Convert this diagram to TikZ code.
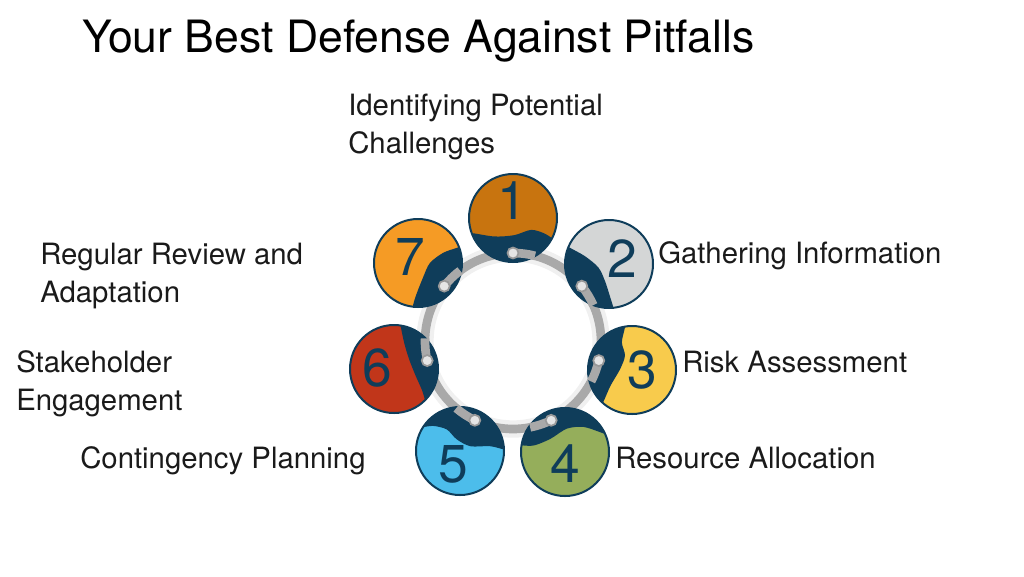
\documentclass[tikz,border=0pt]{standalone}
\usepackage{fontspec}
\setmainfont{TeX Gyre Heros}
\usetikzlibrary{positioning}
\definecolor{navy}{HTML}{0F3D5A}
\definecolor{ochre}{HTML}{C8740F}
\definecolor{silver}{HTML}{D4D6D6}
\definecolor{sun}{HTML}{F8CB4C}
\definecolor{moss}{HTML}{95AE5B}
\definecolor{sky}{HTML}{4CBDEB}
\definecolor{brick}{HTML}{C1361A}
\definecolor{amber}{HTML}{F59B25}
\definecolor{ringgray}{HTML}{A9A9A9}
\definecolor{ink}{HTML}{1A1A1A}

\tikzset{
  ringline/.style={ringgray, line width=6.5pt},
  rim/.style={navy, line width=1.5pt},
  digit/.style={font=\fontsize{40}{40}\selectfont, text=navy, inner sep=0pt},
  steplabel/.style={font=\fontsize{22}{28.5}\selectfont, text=ink, anchor=base west, align=left, inner sep=0pt},
}

\begin{document}
\begin{tikzpicture}[x=0.75pt, y=-0.75pt]
    \useasboundingbox (0,0) rectangle (1024,576);

    % Title
    \node[font=\fontsize{33.4}{40}\selectfont, anchor=base west, inner sep=0pt] (title) at (82,52) {Your Best Defense Against Pitfalls};

    % Ring behind the discs
    \begin{scope}[shift={(513,341)}, yscale=-1]
        \draw[gray!12, line width=13pt] (0,0) circle (88);
        \draw[ringline] (0,0) circle (88);
    \end{scope}

    % Disc 1
    \begin{scope}[shift={(513,218)}, scale=44]
        \fill[ochre] (0,0) circle (1);
        \begin{scope}
            \clip (0,0) circle (1);
            \fill[navy] plot[smooth] coordinates {(-1.05,0.34) (-0.88,0.35) (-0.42,0.42) (0.03,0.39) (0.41,0.27) (0.71,0.35) (0.98,0.52) (1.1,0.6)}
                -- (1.5,0.6) -- (1.5,1.5) -- (-1.5,1.5) -- (-1.5,0.34) -- cycle;
        \end{scope}
        \draw[rim] (0,0) circle (1);
    \end{scope}

    % Disc 2
    \begin{scope}[shift={(609,264)}, scale=44]
        \fill[silver] (0,0) circle (1);
        \begin{scope}
            \clip (0,0) circle (1);
            \fill[navy] plot[smooth] coordinates {(-1.0,-0.45) (-0.89,-0.37) (-0.55,-0.18) (-0.24,0.08) (-0.09,0.39) (0.02,0.73) (0.1,0.99) (0.12,1.1)}
                -- (0.12,1.5) -- (-1.5,1.5) -- (-1.5,-0.45) -- cycle;
        \end{scope}
        \draw[rim] (0,0) circle (1);
    \end{scope}

    % Disc 3
    \begin{scope}[shift={(632,370)}, scale=44]
        \fill[sun] (0,0) circle (1);
        \begin{scope}
            \clip (0,0) circle (1);
            \fill[navy] plot[smooth] coordinates {(-0.16,-1.1) (-0.16,-0.97) (-0.23,-0.63) (-0.16,-0.33) (-0.27,-0.02) (-0.49,0.36) (-0.64,0.7) (-0.75,0.9)}
                -- (-1.5,0.9) -- (-1.5,-1.1) -- cycle;
        \end{scope}
        \draw[rim] (0,0) circle (1);
    \end{scope}

    % Disc 4
    \begin{scope}[shift={(565,452)}, scale=44]
        \fill[moss] (0,0) circle (1);
        \begin{scope}
            \clip (0,0) circle (1);
            \fill[navy] plot[smooth] coordinates {(-1.1,-0.15) (-0.98,-0.15) (-0.7,-0.15) (-0.33,-0.3) (0.04,-0.53) (0.42,-0.57) (0.8,-0.45) (0.98,-0.38) (1.1,-0.35)}
                -- (1.5,-0.35) -- (1.5,-1.5) -- (-1.5,-1.5) -- (-1.5,-0.15) -- cycle;
        \end{scope}
        \draw[rim] (0,0) circle (1);
    \end{scope}

    % Disc 5
    \begin{scope}[shift={(460,451)}, scale=44]
        \fill[sky] (0,0) circle (1);
        \begin{scope}
            \clip (0,0) circle (1);
            \fill[navy] plot[smooth] coordinates {(-1.05,-0.52) (-0.91,-0.53) (-0.61,-0.57) (-0.3,-0.49) (-0.08,-0.27) (0.23,-0.11) (0.68,-0.11) (0.98,-0.04) (1.1,-0.03)}
                -- (1.5,-0.03) -- (1.5,-1.5) -- (-1.5,-1.5) -- (-1.5,-0.52) -- cycle;
        \end{scope}
        \draw[rim] (0,0) circle (1);
    \end{scope}

    % Disc 6
    \begin{scope}[shift={(394,369)}, scale=44]
        \fill[brick] (0,0) circle (1);
        \begin{scope}
            \clip (0,0) circle (1);
            \fill[navy] plot[smooth] coordinates {(0.13,-1.1) (0.15,-0.98) (0.23,-0.6) (0.34,-0.23) (0.49,0.15) (0.64,0.49) (0.72,0.76) (0.8,0.95)}
                -- (1.5,0.95) -- (1.5,-1.1) -- cycle;
        \end{scope}
        \draw[rim] (0,0) circle (1);
    \end{scope}

    % Disc 7
    \begin{scope}[shift={(418,263)}, scale=44]
        \fill[amber] (0,0) circle (1);
        \begin{scope}
            \clip (0,0) circle (1);
            \fill[navy] plot[smooth] coordinates {(1.05,-0.4) (0.87,-0.34) (0.57,-0.23) (0.27,0.0) (0.11,0.34) (-0.04,0.72) (-0.11,0.95) (-0.13,1.1)}
                -- (-0.13,1.5) -- (1.5,1.5) -- (1.5,-0.4) -- cycle;
        \end{scope}
        \draw[rim] (0,0) circle (1);
    \end{scope}

    % Ring links over each disc
    \begin{scope}[shift={(513,341)}, yscale=-1]
        \foreach \k [evaluate=\k as \a using 90-\k*360/7] in {0,...,6} {
            \draw[ringline] (\a:88) arc[start angle=\a, end angle=\a-14.5, radius=88];
            \filldraw[fill=gray!20, draw=gray!80, line width=1.3pt] (\a:88) circle (5.5);
        }
    \end{scope}

    % Numbers
    \node[digit] (num1) at (512,201) {1};
    \node[digit] (num2) at (622,259) {2};
    \node[digit] (num3) at (642,370) {3};
    \node[digit] (num4) at (565,464) {4};
    \node[digit] (num5) at (453,464) {5};
    \node[digit] (num6) at (377,368) {6};
    \node[digit] (num7) at (410,257) {7};

    % Step labels
    \node[steplabel] (lab1) at (348,153) {Identifying Potential\\Challenges};
    \node[steplabel] (lab2) at (658,263) {Gathering Information};
    \node[steplabel] (lab3) at (682,372) {Risk Assessment};
    \node[steplabel] (lab4) at (615,468) {Resource Allocation};
    \node[steplabel] (lab5) at (80,468) {Contingency Planning};
    \node[steplabel] (lab6) at (16,410) {Stakeholder\\Engagement};
    \node[steplabel] (lab7) at (40,302) {Regular Review and\\Adaptation};
\end{tikzpicture}
\end{document}
